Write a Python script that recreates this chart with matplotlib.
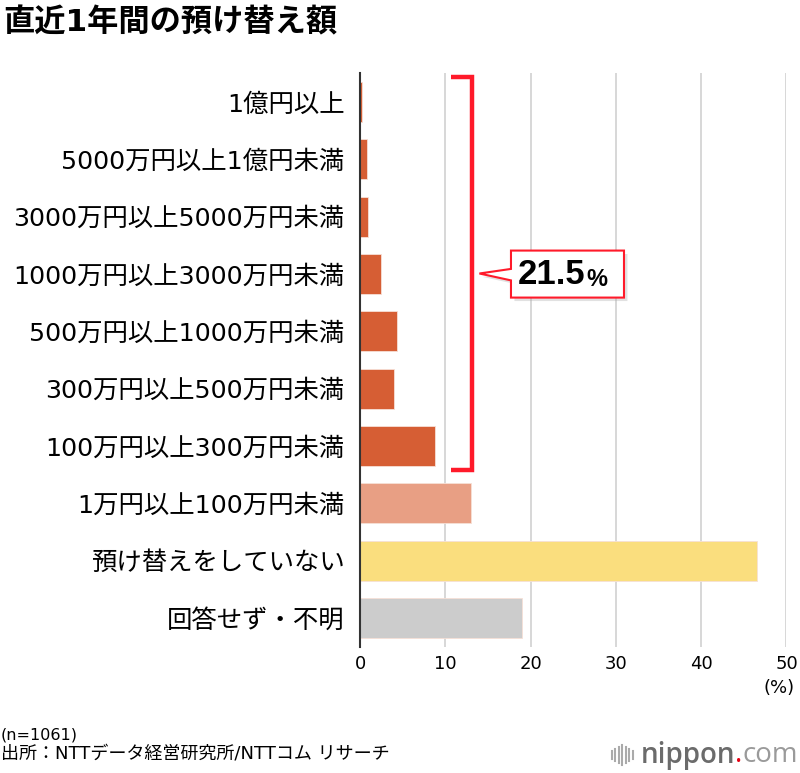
import matplotlib
matplotlib.use("Agg")
import matplotlib.pyplot as plt
from matplotlib.patches import Polygon
from matplotlib.lines import Line2D
import matplotlib.patheffects as pe

plt.rcParams['font.family'] = ['DejaVu Sans', 'Noto Sans CJK JP']

categories = ["1億円以上", "5000万円以上1億円未満", "3000万円以上5000万円未満",
              "1000万円以上3000万円未満", "500万円以上1000万円未満",
              "300万円以上500万円未満", "100万円以上300万円未満",
              "1万円以上100万円未満", "預け替えをしていない", "回答せず・不明"]
values = [0.2, 0.8, 0.9, 2.5, 4.3, 4.0, 8.8, 13.0, 46.5, 19.0]
colors = ["#D65E34"] * 7 + ["#E89F84", "#FADE7E", "#CCCCCC"]
bracket_n = 7
xticks = [0, 10, 20, 30, 40, 50]

title = "直近1年間の預け替え額"
note = "(n=1061)"
source = "出所：NTTデータ経営研究所/NTTコム リサーチ"

fig = plt.figure(figsize=(8, 7.73), dpi=100)
ax = fig.add_axes([0.45, 0.1634, 0.5331, 0.7416])

ypos = list(range(len(categories)))
ax.barh(ypos, values, height=0.7, color=colors, edgecolor="#f6e0d6", linewidth=0.6, zorder=3)
ax.set_ylim(len(categories) - 0.5, -0.5)
ax.set_xlim(0, 50)
ax.set_xticks(xticks)
ax.set_xticklabels([str(t) for t in xticks], fontsize=13)
ax.set_yticks(ypos)
ax.set_yticklabels(categories, fontsize=18.3)
ax.tick_params(axis='y', length=0, pad=11)
ax.tick_params(axis='x', length=0, pad=6)
ax.grid(axis='x', color="#d4d4d4", linewidth=1.3, zorder=0)
for s in ["top", "right", "bottom"]:
    ax.spines[s].set_visible(False)
ax.spines["left"].set_color("#333333")
ax.spines["left"].set_linewidth(1.5)
ax.spines["left"].set_zorder(4)

# bracket around first groups
red = "#FF1A2A"
top = -0.5 + 0.06
bot = bracket_n - 1 + 0.5 - 0.08
bx0, bx1 = 10.67, 13.1
ax.plot([bx0, bx1, bx1, bx0], [top, top, bot, bot], color=red, lw=3.2,
        solid_joinstyle='miter', solid_capstyle='butt', zorder=5, clip_on=False)

# callout
total = sum(values[:bracket_n])
mid = (top + bot) / 2
bl, br = 17.7, 30.95
bt, bb = mid - 0.4, mid + 0.42
tip = 14.0
poly = Polygon([(bl, bt), (br, bt), (br, bb), (bl, bb), (bl, mid + 0.12), (tip, mid),
                (bl, mid - 0.08)], closed=True, facecolor="white", edgecolor=red,
               linewidth=1.5, zorder=6, clip_on=False,
               path_effects=[pe.SimplePatchShadow(offset=(2.5, -2.5), shadow_rgbFace="#aaaaaa", alpha=0.35),
                             pe.Normal()])
ax.add_patch(poly)
split = bl + 0.66 * (br - bl)
cf = ['Liberation Sans Narrow', 'Liberation Sans']
ax.text(split, mid + 0.02, f"{total:.1f}", fontsize=25, fontweight='bold',
        ha='right', va='center', zorder=7, family=cf)
ax.text(split + 0.05, mid + 0.1, "%", fontsize=17, fontweight='bold',
        ha='left', va='center', zorder=7, family=cf)

fig.text(3 / 800, 1 - 22 / 773, title, fontsize=22.5, fontweight='bold', ha='left', va='center')
fig.text(795 / 800, 1 - 688 / 773, "(%)", fontsize=13, ha='right', va='center')
fig.text(1 / 800, 1 - 735 / 773, note, fontsize=11.5, ha='left', va='center')
fig.text(1 / 800, 1 - 754 / 773, source, fontsize=13, ha='left', va='center')

# nippon.com logo
fig.canvas.draw()
r = fig.canvas.get_renderer()
lf = ['Open Sans', 'DejaVu Sans']
tc = fig.text(798 / 800, 1 - 755 / 773, "com", fontsize=20, color="#9a9a9a", ha='right', va='center', family=lf)
w = tc.get_window_extent(r)
td = fig.text(w.x0 / 800, 1 - 755 / 773, ".", fontsize=20, color="#E60012", ha='right', va='center', family=lf)
w2 = td.get_window_extent(r)
tn = fig.text(w2.x0 / 800, 1 - 755 / 773, "nippon", fontsize=20, color="#6b6b6b", ha='right', va='center',
              family=lf, fontweight='semibold')
w3 = tn.get_window_extent(r)
hs = [8, 12, 16, 20, 16, 12, 8]
x = w3.x0 - 8
for h in reversed(hs):
    fig.add_artist(Line2D([x / 800, x / 800], [(18 - h / 2) / 773, (18 + h / 2) / 773],
                          color="#aaaaaa", lw=1.5))
    x -= 3.5

fig.savefig("out.png", dpi=100, facecolor="white")
